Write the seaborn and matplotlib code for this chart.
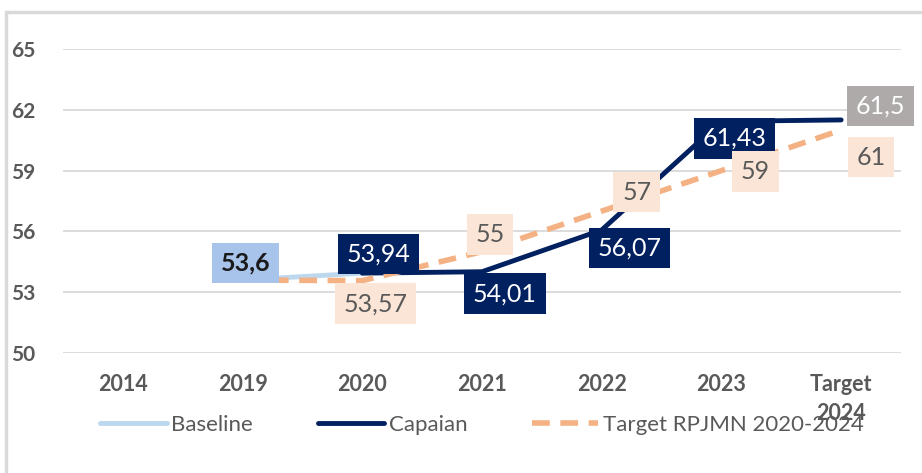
import matplotlib
matplotlib.use("Agg")
import matplotlib.pyplot as plt
import seaborn as sns
import pandas as pd
import numpy as np

# data
categories = ["2014", "2019", "2020", "2021", "2022", "2023", "Target\n2024"]
baseline = [np.nan, 53.6, 53.94, np.nan, np.nan, np.nan, np.nan]
capaian = [np.nan, np.nan, 53.94, 54.01, 56.07, 61.43, 61.5]
target = [np.nan, 53.6, 53.57, 55, 57, 59, 61]
yticks = [50, 53, 56, 59, 62, 65]

sns.set_style("white")
plt.rcParams["font.family"] = ["Lato", "DejaVu Sans"]

fig = plt.figure(figsize=(9.22, 4.73), dpi=100)
ax = fig.add_axes([63 / 922, 1 - 353 / 473, 838 / 922, 304 / 473])

df = pd.DataFrame({"x": range(len(categories)), "Baseline": baseline,
                   "Capaian": capaian, "Target RPJMN 2020-2024": target})

sns.lineplot(data=df, x="x", y="Baseline", ax=ax, color="#bdd7ee", lw=3.5,
             label="Baseline")
sns.lineplot(data=df, x="x", y="Capaian", ax=ax, color="#002060", lw=3.5,
             label="Capaian")
sns.lineplot(data=df, x="x", y="Target RPJMN 2020-2024", ax=ax, color="#f4b183",
             lw=4, label="Target RPJMN 2020-2024")
ax.lines[-1].set_dashes([3.2, 1.9])

ax.set_xlim(-0.5, len(categories) - 0.5)
ax.set_ylim(50, 65)
ax.set_yticks(yticks)
ax.set_xticks(range(len(categories)))
ax.set_xticklabels(categories)
ax.set_xlabel("")
ax.set_ylabel("")
ax.grid(axis="y", color="#d9d9d9", lw=1.3)
ax.set_axisbelow(True)
for s in ax.spines.values():
    s.set_visible(False)
ax.tick_params(axis="x", length=0, pad=15, labelsize=15.5, labelcolor="#595959")
ax.tick_params(axis="y", length=0, pad=20, labelsize=15, labelcolor="#595959")
for t in ax.get_xticklabels():
    t.set_fontweight("bold")
    t.set_verticalalignment("top")
    t.set_linespacing(1.5)
for t in ax.get_yticklabels():
    t.set_fontweight("bold")


def tag(i, v, dx, dy, fc, tc, bold=False):
    ax.annotate(f"{v:g}".replace(".", ","), (i, v), xytext=(dx, dy),
                textcoords="offset pixels", ha="center", va="center",
                fontsize=18, color=tc, fontweight="bold" if bold else "normal",
                bbox=dict(boxstyle="square,pad=0.35", fc=fc, ec="none"),
                zorder=5)


# label offsets in pixels
tag(1, baseline[1], 3, 17, "#a9c4eb", "#1a1a1a", bold=True)
cap_off = {2: (16, 19), 3: (23, -22), 4: (28, -18), 5: (13, -17)}
for i, (dx, dy) in cap_off.items():
    tag(i, capaian[i], dx, dy, "#002060", "white")
tag(6, capaian[6], 39, 14, "#aeaaaa", "white")
tgt_off = {2: (13, -23), 3: (8, 17), 4: (35, 19), 5: (34, -1), 6: (30, -27)}
for i, (dx, dy) in tgt_off.items():
    tag(i, target[i], dx, dy, "#fbe5d6", "#595959")

ax.legend(loc="center", bbox_to_anchor=(482 / 922, 1 - 425 / 473),
          bbox_transform=fig.transFigure, ncol=3, frameon=False,
          fontsize=16, labelcolor="#595959", handlelength=3.0,
          handletextpad=0.2, columnspacing=2.9)

# outer chart frame
fig.patches.append(plt.Rectangle((6 / 922, -0.1), 1.1, 1 - 12 / 473 + 0.1,
                                 transform=fig.transFigure, fill=False,
                                 ec="#d9d9d9", lw=2.5))

fig.savefig("out.png", dpi=100)
